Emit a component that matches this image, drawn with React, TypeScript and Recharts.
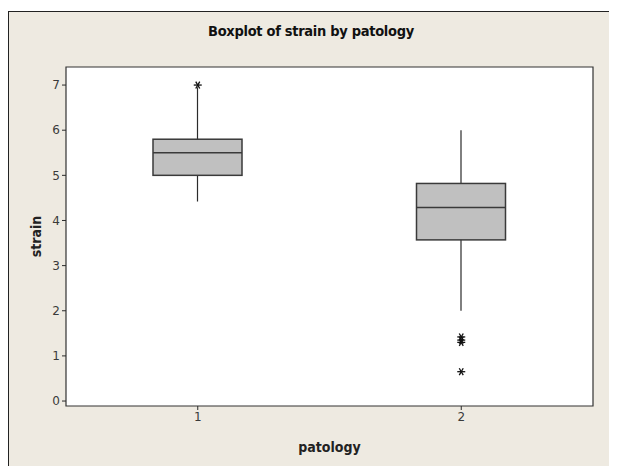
import React from 'react';
import { ComposedChart, Bar, Scatter, XAxis, YAxis, CartesianGrid, ReferenceArea } from 'recharts';

const categories = ['1', '2'];
const whiskerLow = [4.42, 2.0];
const q1 = [5.0, 3.57];
const median = [5.5, 4.29];
const q3 = [5.8, 4.82];
const whiskerHigh = [6.95, 6.0];
const outliers = [[7.0], [1.42, 1.35, 1.3, 0.65]];
const yTicks = [0, 1, 2, 3, 4, 5, 6, 7];
const yDomain = [-0.11, 7.4];

const rows = categories.map((c, i) => {
  const row: any = {
    patology: c,
    range: [whiskerLow[i], whiskerHigh[i]],
    low: whiskerLow[i],
    q1: q1[i],
    median: median[i],
    q3: q3[i],
    high: whiskerHigh[i],
  };
  outliers[i].forEach((v, k) => {
    row['o' + k] = v;
  });
  return row;
});
const outlierKeys = ['o0', 'o1', 'o2', 'o3'];

const frameBg = '#eeeae1';
const ink = '#2b2b2b';
const narrow = "'Liberation Sans Narrow', 'DejaVu Sans Condensed', 'Roboto Condensed', sans-serif";
const tickFont = "'DejaVu Sans', Tahoma, sans-serif";

const BoxShape = (props: any) => {
  const { x, y, width, height, payload } = props;
  if (!payload || height == null) return null;
  const top = Math.min(y, y + height);
  const h = Math.abs(height);
  const toY = (v: number) => top + (h * (payload.high - v)) / (payload.high - payload.low);
  const cx = x + width / 2;
  const yq3 = toY(payload.q3);
  const yq1 = toY(payload.q1);
  const ymed = toY(payload.median);
  return (
    <g>
      <line x1={cx} x2={cx} y1={top} y2={top + h} stroke={ink} strokeWidth={1.2} />
      <rect x={x} y={yq3} width={width} height={yq1 - yq3} fill="#c0c0c0" stroke="#3a3a3a" strokeWidth={1.5} />
      <line x1={x} x2={x + width} y1={ymed} y2={ymed} stroke="#3a3a3a" strokeWidth={1.5} />
    </g>
  );
};

const Star = (props: any) => {
  const { cx, cy } = props;
  if (cx == null || cy == null || isNaN(cy)) return null;
  const r = 4;
  const dx = r * Math.cos(Math.PI / 3);
  const dy = r * Math.sin(Math.PI / 3);
  return (
    <g stroke="#111" strokeWidth={1.3}>
      <line x1={cx - r} x2={cx + r} y1={cy} y2={cy} />
      <line x1={cx - dx} x2={cx + dx} y1={cy - dy} y2={cy + dy} />
      <line x1={cx - dx} x2={cx + dx} y1={cy + dy} y2={cy - dy} />
    </g>
  );
};

export default function App() {
  return (
    <div style={{ position: 'relative', width: 609, height: 455, marginTop: 3, background: frameBg, borderLeft: '1px solid #222', borderTop: '1px solid #222' }}>
      <div style={{ position: 'absolute', top: 9, left: 0, width: 604, textAlign: 'center', fontFamily: narrow, fontWeight: 'bold', fontSize: 14.5, color: '#111', lineHeight: '20px', letterSpacing: -0.3 }}>
        Boxplot of strain by patology
      </div>
      <ComposedChart width={608} height={454} data={rows} margin={{ top: 55, right: 24, left: 0, bottom: 0 }}>
        <CartesianGrid fill="#ffffff" horizontal={false} vertical={false} />
        <ReferenceArea y1={yDomain[0]} y2={yDomain[1]} fill="none" fillOpacity={0} stroke="#333" strokeWidth={1.2} />
        <XAxis
          dataKey="patology"
          type="category"
          allowDuplicatedCategory={false}
          height={60}
          axisLine={false}
          tickLine={{ stroke: ink }}
          tickSize={4}
          tick={{ fill: '#3a3a3a', fontSize: 12, fontFamily: tickFont }}
          label={{ value: 'patology', position: 'center', dy: 11, fill: '#222', fontSize: 14, fontWeight: 'bold', fontFamily: narrow }}
        />
        <YAxis
          type="number"
          domain={yDomain}
          ticks={yTicks}
          width={57}
          axisLine={false}
          tickLine={{ stroke: ink }}
          tickSize={4}
          tick={{ fill: '#3a3a3a', fontSize: 12, fontFamily: tickFont }}
          label={{ value: 'strain', angle: -90, position: 'center', dx: -1, fill: '#222', fontSize: 14, fontWeight: 'bold', fontFamily: narrow }}
        />
        <Bar dataKey="range" barSize={89} shape={<BoxShape />} isAnimationActive={false} />
        {outlierKeys.map((k) => (
          <Scatter key={k} dataKey={k} shape={<Star />} isAnimationActive={false} />
        ))}
      </ComposedChart>
    </div>
  );
}
